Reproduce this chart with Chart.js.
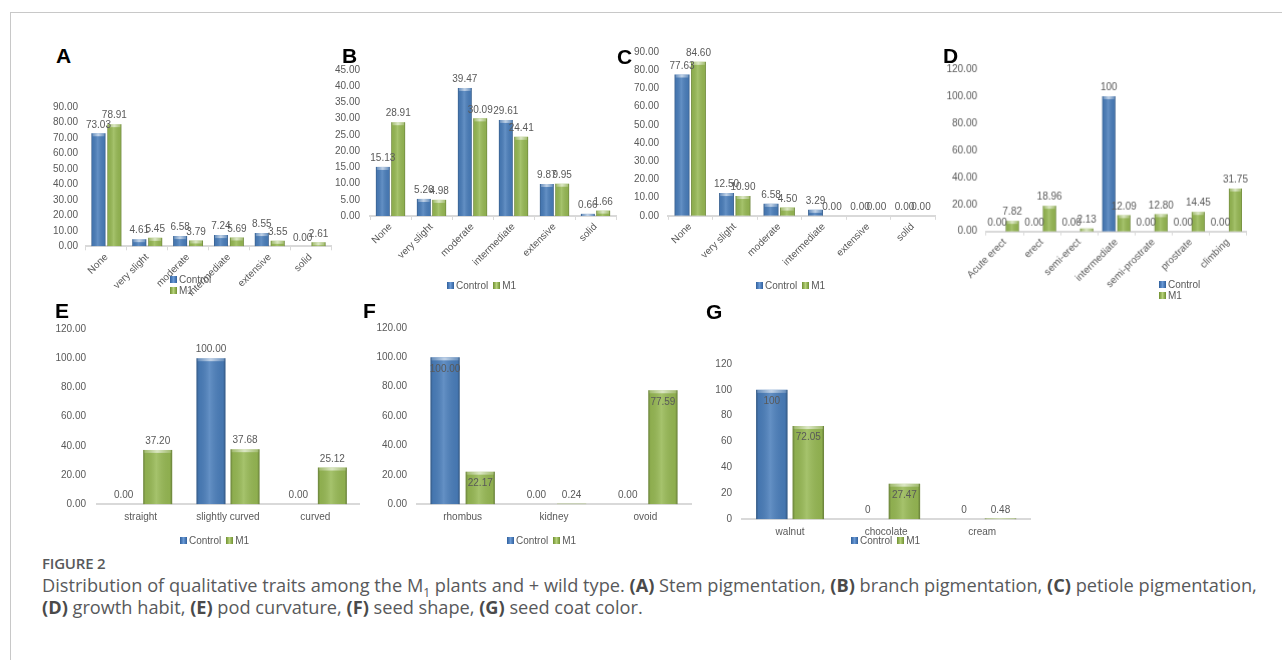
<!DOCTYPE html>
<html>
<head>
<meta charset="utf-8">
<script src="https://cdn.jsdelivr.net/npm/chart.js@4.4.1/dist/chart.umd.min.js"></script>
<style>
  html, body { margin: 0; padding: 0; background: #fff; width: 1282px; height: 660px; overflow: hidden; }
  #frame { position: absolute; left: 10px; top: 12px; width: 1400px; height: 800px;
           border-left: 1px solid #c8c8c8; border-top: 1px solid #c8c8c8; }
  .panel { position: absolute; }
  .letter { position: absolute; font: bold 21px "Liberation Sans", Arial, sans-serif; color: #000; line-height: 21px; }
  .legend { position: absolute; font: 10px "Liberation Sans", Arial, sans-serif; color: #595959; line-height: 11px; white-space: nowrap; }
  .legend .item { display: inline-flex; align-items: center; margin-right: 5px; }
  .legend.vertical .item { display: flex; }
  .legend i { display: inline-block; width: 7px; height: 7px; margin-right: 2px; }
  #figtitle { position: absolute; left: 42px; top: 553px; font: 600 15px "Open Sans", Lato, sans-serif; color: #58595b; letter-spacing: -0.2px; }
  #caption { position: absolute; left: 42px; top: 575px; font: 18.2px "Open Sans", Lato, sans-serif; color: #58595b;
             line-height: 21.5px; white-space: nowrap; }
  #caption b { font-weight: 700; color: #4a4a4a; }
  #caption sub { font-size: 12px; line-height: 0; }
</style>
</head>
<body>
<div id="frame"></div>
<div id="figtitle">FIGURE 2</div>
<div id="caption">Distribution of qualitative traits among the M<sub>1</sub> plants and + wild type. <b>(A)</b> Stem pigmentation, <b>(B)</b> branch pigmentation, <b>(C)</b> petiole pigmentation,<br><b>(D)</b> growth habit, <b>(E)</b> pod curvature, <b>(F)</b> seed shape, <b>(G)</b> seed coat color.</div>
<script>
// ---- data (percent of plants per class) ----
const seriesNames = ['Control', 'M1'];

const pigmentClasses = ['None', 'very slight', 'moderate', 'intermediate', 'extensive', 'solid'];
const stemControl    = [73.03, 4.61, 6.58, 7.24, 8.55, 0.00];
const stemM1         = [78.91, 5.45, 3.79, 5.69, 3.55, 2.61];
const branchControl  = [15.13, 5.26, 39.47, 29.61, 9.87, 0.66];
const branchM1       = [28.91, 4.98, 30.09, 24.41, 9.95, 1.66];
const petioleControl = [77.63, 12.50, 6.58, 3.29, 0.00, 0.00];
const petioleM1      = [84.60, 10.90, 4.50, 0.00, 0.00, 0.00];

const habitClasses = ['Acute erect', 'erect', 'semi-erect', 'intermediate', 'semi-prostrate', 'prostrate', 'climbing'];
const habitControl = [0, 0, 0, 100, 0, 0, 0];
const habitM1      = [7.82, 18.96, 2.13, 12.09, 12.80, 14.45, 31.75];

const podClasses = ['straight', 'slightly curved', 'curved'];
const podControl = [0, 100, 0];
const podM1      = [37.20, 37.68, 25.12];

const seedShapeClasses = ['rhombus', 'kidney', 'ovoid'];
const seedShapeControl = [100, 0, 0];
const seedShapeM1      = [22.17, 0.24, 77.59];

const coatClasses = ['walnut', 'chocolate', 'cream'];
const coatControl = [100, 0, 0];
const coatM1      = [72.05, 27.47, 0.48];

// ---- styling helpers ----
const TEXT = '#595959';
const AXIS = '#d9d9d9';
const BASE_COLORS = ['#4a7ebb', '#97b954'];
const SWATCHES = [
  'linear-gradient(90deg,#2f5f9c,#6a9ad6 50%,#2f5f9c)',
  'linear-gradient(90deg,#6f8f30,#b6d27a 50%,#6f8f30)'
];
const fixed2 = v => v.toFixed(2);
const general = v => String(v);

// bevelled bar look + value labels
const barDecor = {
  id: 'barDecor',
  afterDatasetsDraw(chart, args, opts) {
    const ctx = chart.ctx;
    ctx.save();
    chart.data.datasets.forEach((ds, di) => {
      const meta = chart.getDatasetMeta(di);
      meta.data.forEach(bar => {
        const { x, y, base, width } = bar.getProps(['x', 'y', 'base', 'width'], true);
        const h = base - y;
        if (h < 0.6) return;
        const l = x - width / 2, r = x + width / 2;
        const g = ctx.createLinearGradient(l, 0, r, 0);
        g.addColorStop(0, 'rgba(0,0,0,0.30)');
        g.addColorStop(0.08, 'rgba(0,0,0,0.06)');
        g.addColorStop(0.45, 'rgba(255,255,255,0.14)');
        g.addColorStop(0.92, 'rgba(0,0,0,0.06)');
        g.addColorStop(1, 'rgba(0,0,0,0.32)');
        ctx.fillStyle = g;
        ctx.fillRect(l, y, width, h);
        const capH = Math.min(3, h);
        const c = ctx.createLinearGradient(l, 0, r, 0);
        c.addColorStop(0, 'rgba(255,255,255,0.15)');
        c.addColorStop(0.5, 'rgba(255,255,255,0.6)');
        c.addColorStop(1, 'rgba(255,255,255,0.15)');
        ctx.fillStyle = c;
        ctx.fillRect(l + 1, y, width - 2, capH);
      });
    });
    ctx.font = '10px "Liberation Sans", Arial, sans-serif';
    ctx.fillStyle = TEXT;
    ctx.textAlign = 'center';
    ctx.textBaseline = 'middle';
    chart.data.datasets.forEach((ds, di) => {
      const meta = chart.getDatasetMeta(di);
      meta.data.forEach((bar, i) => {
        const v = ds.data[i];
        const { x, y, base } = bar.getProps(['x', 'y', 'base'], true);
        const text = opts.format(v, di);
        const ly = (opts.inside && base - y > 22) ? y + 11.5 : y - 8.5;
        ctx.fillText(text, x, ly);
      });
    });
    ctx.restore();
  }
};

// ---- panel layout ----
const panels = [
  { letter: 'A', lx: 56, ly: 45, labels: pigmentClasses, data: [stemControl, stemM1],
    area: { left: 86, right: 331, top: 106.7, bottom: 246 }, max: 90, step: 10, yGap: 8,
    rotate: true, cp: 0.78, bp: 0.875, tickMarks: true, inside: false,
    format: v => fixed2(v), legend: { x: 170, y: 274, dir: 'vertical' } },
  { letter: 'B', lx: 342, ly: 44.5, labels: pigmentClasses, data: [branchControl, branchM1],
    area: { left: 370, right: 616, top: 70, bottom: 216 }, max: 45, step: 5, yGap: 10,
    rotate: true, cp: 0.75, bp: 0.9, tickMarks: true, inside: false,
    format: v => fixed2(v), legend: { x: 447, y: 280, dir: 'horizontal' } },
  { letter: 'C', lx: 617, ly: 46, labels: pigmentClasses, data: [petioleControl, petioleM1],
    area: { left: 668, right: 935, top: 51.7, bottom: 215.5 }, max: 90, step: 10, yGap: 9,
    rotate: true, cp: 0.74, bp: 0.9, tickMarks: true, inside: false,
    format: v => fixed2(v), legend: { x: 756, y: 280, dir: 'horizontal' } },
  { letter: 'D', lx: 943, ly: 44.5, labels: habitClasses, data: [habitControl, habitM1],
    area: { left: 986, right: 1245.5, top: 69.3, bottom: 231 }, max: 120, step: 20, yGap: 9,
    rotate: true, cp: 0.81, bp: 0.87, tickMarks: true, inside: false,
    format: (v, di) => (di === 0 && v === 100) ? general(v) : fixed2(v),
    legend: { x: 1159, y: 279, dir: 'vertical' } },
  { letter: 'E', lx: 55, ly: 300, labels: podClasses, data: [podControl, podM1],
    area: { left: 97, right: 359, top: 329.3, bottom: 504.5 }, max: 120, step: 20, yGap: 11,
    rotate: false, cp: 0.78, bp: 0.85, tickMarks: false, inside: false,
    format: v => fixed2(v), legend: { x: 180, y: 535, dir: 'horizontal' } },
  { letter: 'F', lx: 363, ly: 300, labels: seedShapeClasses, data: [seedShapeControl, seedShapeM1],
    area: { left: 416.7, right: 690.7, top: 328.3, bottom: 504.5 }, max: 120, step: 20, yGap: 10,
    rotate: false, cp: 0.77, bp: 0.83, tickMarks: false, inside: true,
    format: v => fixed2(v), legend: { x: 507, y: 535, dir: 'horizontal' } },
  { letter: 'G', lx: 706, ly: 301, labels: coatClasses, data: [coatControl, coatM1],
    area: { left: 741.7, right: 1030, top: 364.3, bottom: 519.5 }, max: 120, step: 20, yGap: 10,
    rotate: false, cp: 0.76, bp: 0.86, tickMarks: false, inside: true,
    format: v => general(v), yFormat: v => String(v), legend: { x: 851, y: 535, dir: 'horizontal' } }
];

const Y_W = 60, PAD_T = 24, PAD_R = 12;

panels.forEach(p => {
  const xH = p.rotate ? 80 : 22;
  const cLeft = p.area.left - Y_W;
  const cTop = p.area.top - PAD_T;
  const w = p.area.right - cLeft + PAD_R;
  const h = p.area.bottom - cTop + xH;

  const holder = document.createElement('div');
  holder.className = 'panel';
  Object.assign(holder.style, { left: cLeft + 'px', top: cTop + 'px', width: w + 'px', height: h + 'px' });
  const canvas = document.createElement('canvas');
  holder.appendChild(canvas);
  document.body.appendChild(holder);

  const letter = document.createElement('div');
  letter.className = 'letter';
  letter.textContent = p.letter;
  Object.assign(letter.style, { left: p.lx + 'px', top: p.ly + 'px' });
  document.body.appendChild(letter);

  const lg = document.createElement('div');
  lg.className = 'legend ' + p.legend.dir;
  Object.assign(lg.style, { left: p.legend.x + 'px', top: p.legend.y + 'px' });
  seriesNames.forEach((name, k) => {
    const item = document.createElement('span');
    item.className = 'item';
    const sw = document.createElement('i');
    sw.style.background = SWATCHES[k];
    item.appendChild(sw);
    item.appendChild(document.createTextNode(name));
    lg.appendChild(item);
  });
  document.body.appendChild(lg);

  const font = { family: '"Liberation Sans", Arial, sans-serif', size: 10 };
  new Chart(canvas, {
    type: 'bar',
    data: {
      labels: p.labels,
      datasets: p.data.map((d, k) => ({
        label: seriesNames[k], data: d, backgroundColor: BASE_COLORS[k], borderWidth: 0,
        categoryPercentage: p.cp, barPercentage: p.bp
      }))
    },
    options: {
      responsive: true, maintainAspectRatio: false, animation: false,
      layout: { padding: { top: PAD_T, right: PAD_R, left: 0, bottom: 0 } },
      plugins: { legend: { display: false }, tooltip: { enabled: false }, title: { display: false },
                 barDecor: { format: p.format, inside: p.inside } },
      scales: {
        x: {
          offset: true,
          grid: { display: p.tickMarks, drawOnChartArea: false, drawTicks: p.tickMarks, tickLength: 4,
                  offset: true, color: AXIS, lineWidth: 1 },
          border: { display: true, color: AXIS, width: 2 },
          ticks: { color: TEXT, font, autoSkip: false, padding: p.rotate ? 1 : 7,
                   minRotation: p.rotate ? 45 : 0, maxRotation: p.rotate ? 45 : 0 },
          afterFit: s => { s.height = xH; }
        },
        y: {
          min: 0, max: p.max,
          grid: { display: false, drawTicks: false },
          border: { display: false },
          ticks: { stepSize: p.step, color: TEXT, font, padding: p.yGap,
                   callback: v => p.yFormat ? p.yFormat(v) : Number(v).toFixed(2) },
          afterFit: s => { s.width = Y_W; }
        }
      }
    },
    plugins: [barDecor]
  });
});
</script>
</body>
</html>
